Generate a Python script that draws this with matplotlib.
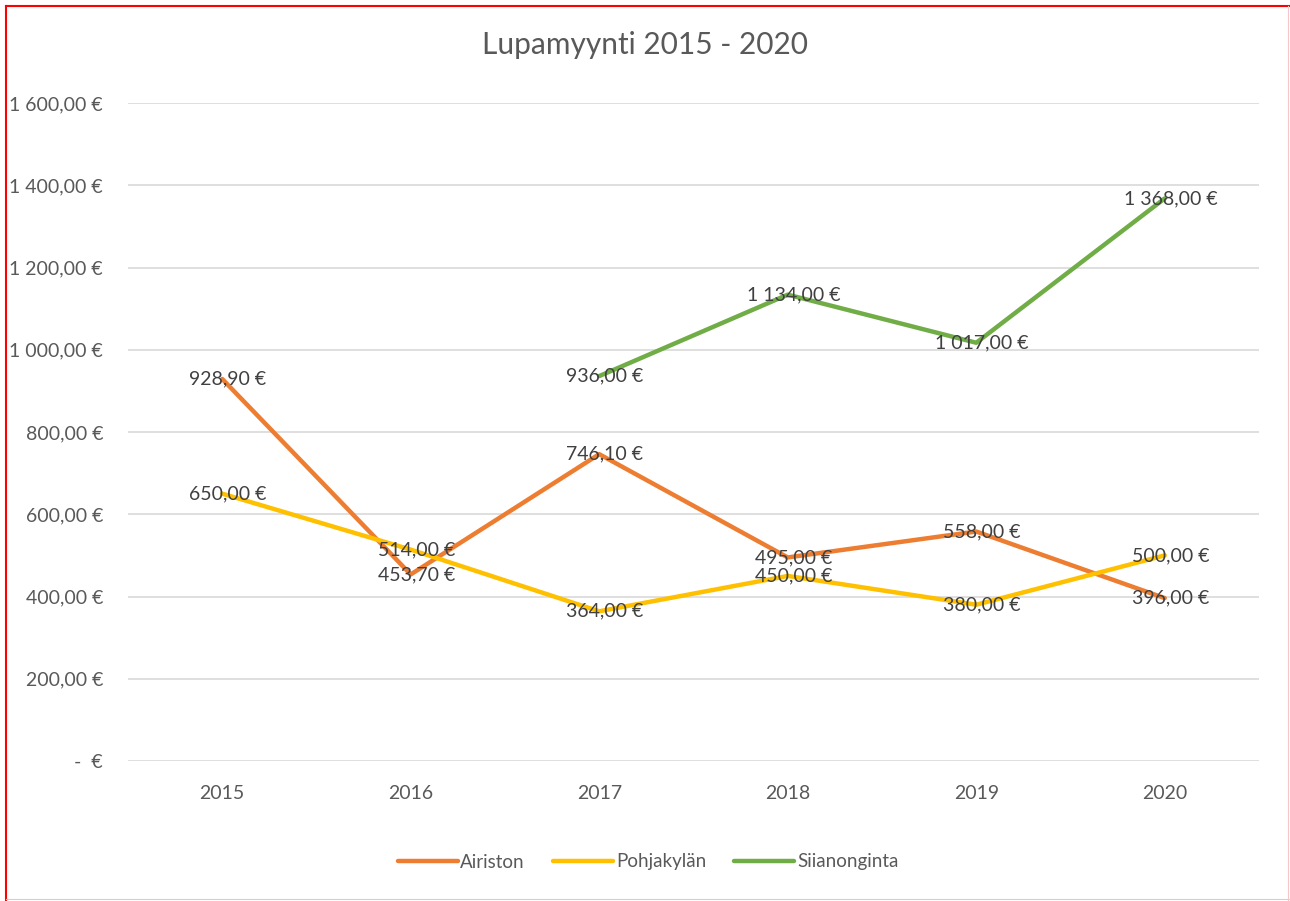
import numpy as np
import matplotlib
matplotlib.use("Agg")
import matplotlib.pyplot as plt
from matplotlib.lines import Line2D
from matplotlib.ticker import FuncFormatter

years = ["2015", "2016", "2017", "2018", "2019", "2020"]
airiston = [928.90, 453.70, 746.10, 495.00, 558.00, 396.00]
pohjakylan = [650.00, 514.00, 364.00, 450.00, 380.00, 500.00]
siianonginta = [np.nan, np.nan, 936.00, 1134.00, 1017.00, 1368.00]
series_names = ["Airiston", "Pohjakylän", "Siianonginta"]
colors = ["#ED7D31", "#FFC000", "#70AD47"]
y_ticks = [0, 200, 400, 600, 800, 1000, 1200, 1400, 1600]

plt.rcParams['font.family'] = ['Lato', 'DejaVu Sans']

W, H = 1290, 901
fig = plt.figure(figsize=(W / 100, H / 100), dpi=100)
ax = fig.add_axes([128 / W, 1 - 761 / H, (1259 - 128) / W, (761 - 103) / H])

def eur(v):
    if abs(v) < 1e-9:
        return "-  €"
    s = f"{v:,.2f}"
    s = s.replace(",", " ").replace(".", ",")
    return s + " €"

x = np.arange(len(years))
for name, vals, c in zip(series_names, [airiston, pohjakylan, siianonginta], colors):
    ax.plot(x, vals, color=c, lw=3.2, solid_capstyle='round', label=name, zorder=3)
for vals in [airiston, pohjakylan, siianonginta]:
    for xi, v in zip(x, vals):
        if np.isnan(v):
            continue
        ax.text(xi + 0.03, v, eur(v), ha='center', va='center', fontsize=14,
                color='#404040', zorder=4)

ax.set_xlim(-0.5, len(years) - 0.5)
ax.set_ylim(0, 1600)
ax.set_xticks(x)
ax.set_xticklabels(years)
ax.set_yticks(y_ticks)
ax.yaxis.set_major_formatter(FuncFormatter(lambda v, p: eur(v)))
ax.tick_params(axis='both', length=0, labelsize=14, labelcolor='#595959')
ax.tick_params(axis='y', pad=18)
ax.tick_params(axis='x', pad=17)
ax.grid(axis='y', color='#D9D9D9', lw=1.2)
ax.set_axisbelow(True)
for s in ax.spines.values():
    s.set_visible(False)

fig.text(645 / W, 1 - 45 / H, "Lupamyynti 2015 - 2020", ha='center', va='center',
         fontsize=21.5, color='#595959')

handles = [Line2D([0], [0], color=c, lw=3.2, solid_capstyle='round') for c in colors]
fig.legend(handles, series_names, loc='center', bbox_to_anchor=(648 / W, 1 - 862 / H),
           ncol=3, frameon=False, fontsize=13.5, labelcolor='#595959',
           handlelength=3.2, handletextpad=0.15, columnspacing=1.5)

# Frame
fig.add_artist(Line2D([6 / W, 1], [1 - 6 / H, 1 - 6 / H], color='red', lw=1.5, transform=fig.transFigure))
fig.add_artist(Line2D([6 / W, 6 / W], [0, 1 - 6 / H], color='red', lw=1.5, transform=fig.transFigure))
fig.add_artist(Line2D([1288 / W, 1288 / W], [0, 1 - 6 / H], color='#F4C8C8', lw=0.8, transform=fig.transFigure))
fig.add_artist(Line2D([6 / W, 1], [1 - 899 / H, 1 - 899 / H], color='#D0D0D0', lw=0.8, transform=fig.transFigure))

fig.savefig("out.png", dpi=100)
